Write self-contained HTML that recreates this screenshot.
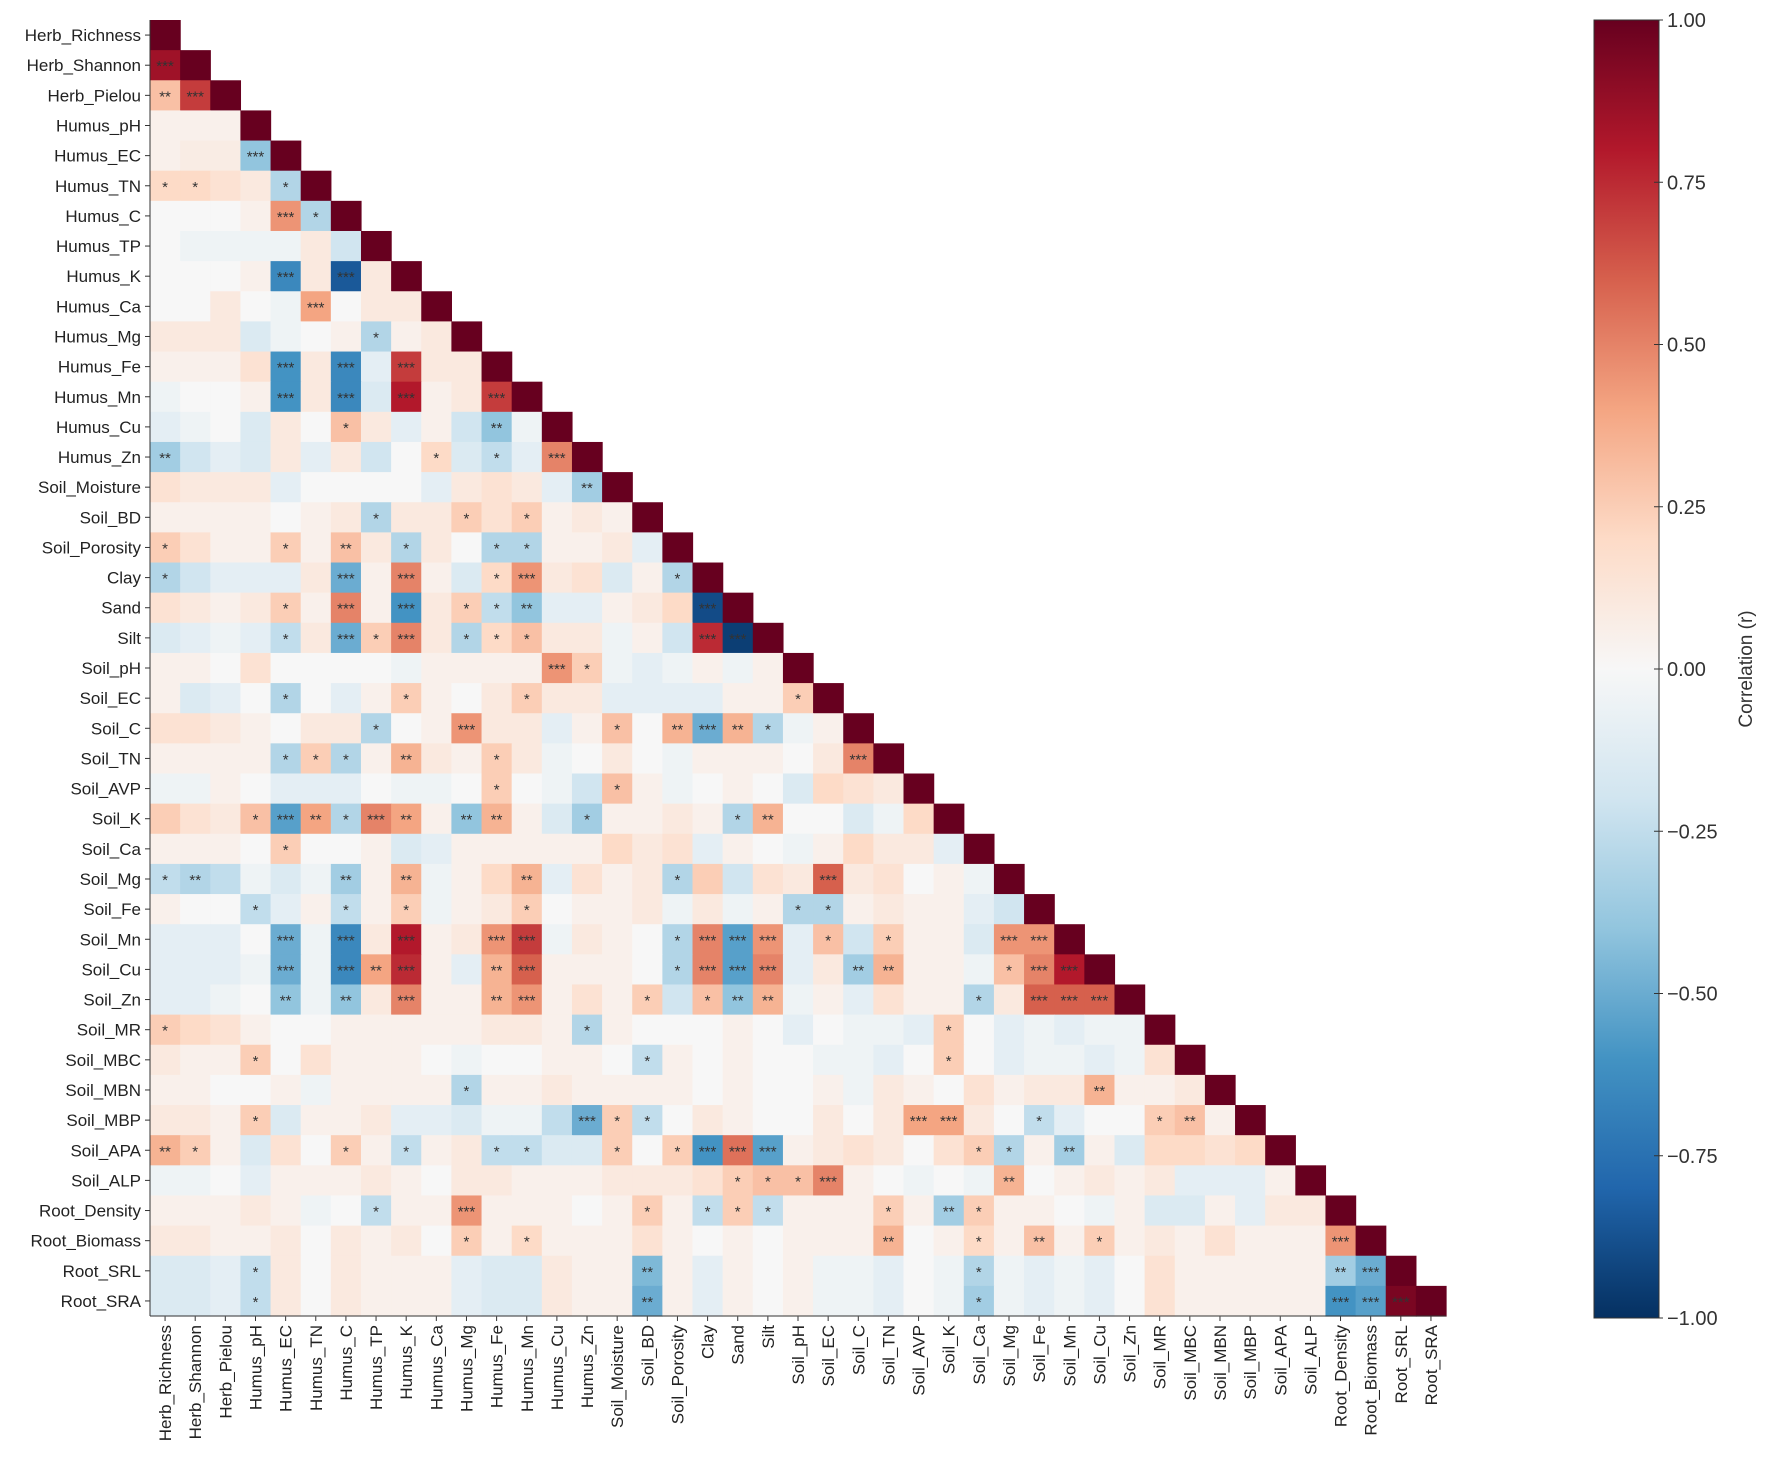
<!DOCTYPE html>
<html><head><meta charset="utf-8"><style>
body{margin:0;background:#fff;}
svg{display:block;font-family:"Liberation Sans",sans-serif;}
</style></head><body>
<svg id="s" width="1772" height="1473" xmlns="http://www.w3.org/2000/svg"></svg>
<script>
const labels=["Herb_Richness","Herb_Shannon","Herb_Pielou","Humus_pH","Humus_EC","Humus_TN","Humus_C","Humus_TP","Humus_K","Humus_Ca","Humus_Mg","Humus_Fe","Humus_Mn","Humus_Cu","Humus_Zn","Soil_Moisture","Soil_BD","Soil_Porosity","Clay","Sand","Silt","Soil_pH","Soil_EC","Soil_C","Soil_TN","Soil_AVP","Soil_K","Soil_Ca","Soil_Mg","Soil_Fe","Soil_Mn","Soil_Cu","Soil_Zn","Soil_MR","Soil_MBC","Soil_MBN","Soil_MBP","Soil_APA","Soil_ALP","Root_Density","Root_Biomass","Root_SRL","Root_SRA"];
const rows=[
"",
"0.85***",
"0.3** 0.7***",
"0.05 0.05 0.05",
"0.05 0.08 0.08 -0.4***",
"0.2* 0.2* 0.15 0.1 -0.3*",
"0 0 0 0.05 0.45*** -0.3*",
"0 -0.05 -0.05 -0.05 -0.05 0.1 -0.2",
"0 0 0 0.05 -0.65*** 0.1 -0.85*** 0.1",
"0 0 0.1 0 -0.05 0.4*** 0 0.1 0.1",
"0.1 0.1 0.1 -0.15 -0.05 0 0.05 -0.3* 0.05 0.1",
"0.05 0.05 0.05 0.15 -0.6*** 0.1 -0.65*** -0.1 0.7*** 0.1 0.1",
"-0.05 0 0 0.05 -0.6*** 0.1 -0.65*** -0.15 0.8*** 0.05 0.1 0.7***",
"-0.1 -0.05 0 -0.15 0.1 0 0.3* 0.1 -0.1 0.05 -0.2 -0.4** -0.05",
"-0.35** -0.2 -0.1 -0.15 0.1 -0.1 0.1 -0.2 0 0.2* -0.15 -0.25* -0.1 0.5***",
"0.15 0.1 0.1 0.1 -0.1 0 0 0 0 -0.1 0.1 0.15 0.1 -0.1 -0.35**",
"0.05 0.05 0.05 0.05 0 0.05 0.1 -0.3* 0.1 0.1 0.25* 0.15 0.25* 0.05 0.1 0.05",
"0.25* 0.15 0.05 0.05 0.25* 0.05 0.3** 0.1 -0.3* 0.1 0 -0.3* -0.3* 0.05 0.05 0.1 -0.1",
"-0.3* -0.2 -0.1 -0.1 -0.1 0.1 -0.5*** 0.05 0.5*** 0.05 -0.15 0.2* 0.45*** 0.1 0.15 -0.15 0.05 -0.3*",
"0.15 0.1 0.05 0.1 0.25* 0.05 0.5*** 0.05 -0.6*** 0.1 0.25* -0.25* -0.4** -0.1 -0.1 0.05 0.1 0.2 -0.9***",
"-0.15 -0.1 -0.05 -0.1 -0.25* 0.1 -0.5*** 0.25* 0.5*** 0.1 -0.3* 0.2* 0.3* 0.1 0.1 -0.05 0.05 -0.2 0.75*** -0.95***",
"0.05 0.05 0 0.15 0 0 0 0 -0.05 0.05 0.05 0.05 0.05 0.45*** 0.25* -0.05 -0.1 -0.05 0.05 -0.05 0.05",
"0.05 -0.15 -0.1 0 -0.3* 0 -0.1 0.05 0.25* 0.05 0 0.1 0.25* 0.1 0.1 -0.1 -0.1 -0.1 -0.1 0.05 0.05 0.25*",
"0.15 0.15 0.1 0.05 0 0.1 0.1 -0.3* 0 0.05 0.45*** 0.1 0.1 -0.1 0.05 0.3* 0 0.35** -0.5*** 0.35** -0.3* -0.05 0.05",
"0.05 0.05 0.05 0.05 -0.3* 0.25* -0.3* 0.05 0.35** 0.1 0.05 0.25* 0.1 -0.05 0 0.1 0 -0.05 0.05 0.05 0.05 0 0.1 0.5***",
"-0.05 -0.05 0.05 0 -0.1 -0.1 -0.1 0 -0.05 -0.05 0 0.25* 0 -0.05 -0.2 0.3* 0.05 -0.05 0 0.05 0 -0.15 0.2 0.15 0.1",
"0.25 0.15 0.1 0.3* -0.55*** 0.4** -0.3* 0.5*** 0.4** 0.05 -0.4** 0.35** 0.05 -0.15 -0.35* 0.05 0.05 0.1 0.05 -0.3* 0.35** 0 0 -0.15 -0.05 0.2",
"0.05 0.05 0.05 0 0.25* 0 0 0.05 -0.15 -0.1 0.05 0.05 0.05 0.05 0.05 0.2 0.1 0.15 -0.1 0.05 0 -0.05 0.05 0.2 0.1 0.1 -0.1",
"-0.25* -0.3** -0.25 -0.05 -0.15 -0.05 -0.35** 0.05 0.35** -0.05 0.05 0.2 0.35** -0.1 0.15 0.05 0.1 -0.3* 0.25 -0.2 0.15 0.1 0.6*** 0.1 0.15 0 0.05 -0.05",
"0.05 0 0 -0.25* -0.1 0.05 -0.25* 0.05 0.25* -0.05 0.05 0.1 0.25* 0 0.05 0.05 0.1 -0.05 0.1 -0.05 0.05 -0.3* -0.3* 0.05 0.1 0.05 0.05 -0.1 -0.2",
"-0.1 -0.1 -0.1 0 -0.5*** -0.05 -0.65*** 0.1 0.8*** 0.05 0.1 0.45*** 0.7*** -0.05 0.1 0.05 0 -0.3* 0.5*** -0.55*** 0.45*** -0.1 0.3* -0.2 0.25* 0.05 0.05 -0.15 0.45*** 0.45***",
"-0.1 -0.1 -0.1 -0.05 -0.5*** -0.05 -0.65*** 0.4** 0.75*** 0.05 -0.1 0.35** 0.6*** 0.05 0.05 0.05 0 -0.3* 0.5*** -0.55*** 0.5*** -0.1 0.1 -0.35** 0.35** 0.05 0.05 -0.05 0.3* 0.5*** 0.8***",
"-0.1 -0.1 -0.05 0 -0.4** -0.05 -0.4** 0.1 0.5*** 0.05 0.05 0.35** 0.45*** 0.05 0.15 0.05 0.25* -0.2 0.3* -0.4** 0.35** -0.05 0.05 -0.1 0.15 0.05 0.05 -0.3* 0.1 0.6*** 0.6*** 0.6***",
"0.25* 0.2 0.15 0.05 0 0 0.05 0.05 0.05 0.05 0.05 0.1 0.1 0.05 -0.3* 0.05 0 0 0 0.05 0 -0.1 0 -0.05 -0.05 -0.1 0.25* 0 -0.1 -0.05 -0.1 -0.05 -0.05",
"0.1 0.05 0.05 0.25* 0 0.15 0.05 0.05 0.05 0 -0.05 0 0 0.05 0.05 0 -0.25* 0.05 0 0.05 0 0 -0.05 -0.05 -0.1 0 0.25* 0 -0.1 -0.05 -0.05 -0.1 -0.05 0.15",
"0.05 0.05 0 0 0.05 -0.05 0.05 0.05 0.05 0.05 -0.3* 0.05 0.05 0.1 0.05 0.05 0.05 0.05 0 0.05 0 0 0.05 -0.05 0.1 0.05 0 0.15 0.05 0.1 0.1 0.35** 0.05 0.05 0.1",
"0.1 0.1 0.05 0.25* -0.15 0.05 0.05 0.1 -0.1 -0.1 -0.15 -0.05 -0.05 -0.25 -0.5*** 0.25* -0.25* 0 0.1 0.05 0 0 0.1 0 0.1 0.4*** 0.4*** 0.1 0 -0.25* -0.1 0 0 0.25* 0.3** 0.05",
"0.35** 0.25* 0.05 -0.15 0.15 0 0.25* 0.05 -0.25* 0.05 0.1 -0.25* -0.25* -0.15 -0.15 0.25* 0 0.25* -0.6*** 0.55*** -0.55*** 0.05 0.1 0.15 0.1 0 0.15 0.25* -0.3* 0.05 -0.35** 0.05 -0.15 0.2 0.2 0.15 0.2",
"-0.05 -0.05 0 -0.1 0.05 0.05 0.05 0.1 0.05 0 0.1 0.1 0.05 0.05 0.05 0.1 0.1 0.1 0.15 0.25* 0.3* 0.3* 0.5*** 0.05 0 -0.05 0 -0.05 0.35** 0 0.05 0.1 0.05 0.1 -0.1 -0.1 -0.1 0.05",
"0.05 0.05 0.05 0.1 0.05 -0.05 0 -0.25* 0.05 0.05 0.45*** 0.05 0.05 0.05 0 0.05 0.25* 0.05 -0.25* 0.25* -0.25* 0.05 0.05 0.05 0.25* 0.05 -0.35** 0.25* 0.05 0.05 0 -0.05 0.05 -0.15 -0.15 0.05 -0.1 0.1 0.1",
"0.1 0.1 0.05 0.05 0.1 0 0.1 0.05 0.1 0 0.25* 0.05 0.2* 0.05 0.05 0.05 0.15 0.05 0 0.05 0 0.05 0.05 0.05 0.35** 0 0.05 0.2* 0.05 0.3** 0.05 0.25* 0.05 0.1 0.05 0.15 0.05 0.05 0.05 0.45***",
"-0.15 -0.15 -0.1 -0.25* 0.1 0 0.1 0.05 0.05 0.05 -0.1 -0.15 -0.15 0.1 0.05 0.05 -0.45** 0.05 -0.1 0.05 0 0.05 -0.05 -0.05 -0.1 0 -0.05 -0.3* -0.05 -0.1 -0.05 -0.1 0 0.15 0.05 0.05 0.05 0.05 0.05 -0.35** -0.5***",
"-0.15 -0.15 -0.1 -0.25* 0.1 0 0.1 0.05 0.05 0.05 -0.1 -0.15 -0.15 0.1 0.05 0.05 -0.5** 0.05 -0.1 0.05 0 0.05 -0.05 -0.05 -0.1 0 -0.05 -0.35* -0.05 -0.1 -0.05 -0.1 0 0.15 0.05 0.05 0.05 0.05 0.05 -0.6*** -0.55*** 0.95***"
];
const stops=["#053061","#2166ac","#4393c3","#92c5de","#d1e5f0","#f7f7f7","#fddbc7","#f4a582","#d6604d","#b2182b","#67001f"];
function hx(h){return [1,3,5].map(i=>parseInt(h.substr(i,2),16));}
function cmap(v){let t=(v+1)/2*10;if(t<0)t=0;if(t>10)t=10;let i=Math.min(9,Math.floor(t)),f=t-i;
 const a=hx(stops[i]),b=hx(stops[i+1]);return "rgb("+a.map((x,k)=>Math.round(x+(b[k]-x)*f)).join(",")+")";}
const X0=150,Y0=20,C=30.14,N=43;
let h='';
h+='<defs><linearGradient id="g" x1="0" y1="1" x2="0" y2="0">';
stops.forEach((s,i)=>{h+=`<stop offset="${i/10}" stop-color="${s}"/>`;});
h+='</linearGradient></defs>';
for(let i=0;i<N;i++){
 const toks=rows[i]?rows[i].split(" "):[];
 for(let j=0;j<=i;j++){
  let v=1,st='';
  if(j<i){const t=toks[j]||"0";v=parseFloat(t);st=(t.match(/\*/g)||[]).join('');}
  const x=X0+j*C,y=Y0+i*C;
  h+=`<rect x="${x.toFixed(2)}" y="${y.toFixed(2)}" width="${(C+0.6).toFixed(2)}" height="${(C+0.6).toFixed(2)}" fill="${cmap(v)}"/>`;
  if(st) h+=`<text x="${(x+C/2).toFixed(2)}" y="${(y+C/2+6).toFixed(2)}" font-size="15" fill="#333" text-anchor="middle">${st}</text>`;
 }
 const cy=Y0+(i+0.5)*C;
 h+=`<line x1="${X0-5}" y1="${cy}" x2="${X0}" y2="${cy}" stroke="#333"/>`;
 h+=`<text x="${X0-9}" y="${cy+6}" font-size="17" fill="#222" text-anchor="end">${labels[i]}</text>`;
 const cx=X0+(i+0.5)*C, by=Y0+N*C;
 h+=`<line x1="${cx}" y1="${by}" x2="${cx}" y2="${by+5}" stroke="#333"/>`;
 h+=`<text transform="translate(${cx+6},${by+9}) rotate(-90)" font-size="17" fill="#222" text-anchor="end">${labels[i]}</text>`;
}
h+=`<line x1="${X0}" y1="${Y0}" x2="${X0}" y2="${Y0+N*C}" stroke="#333"/><line x1="${X0}" y1="${Y0+N*C}" x2="${X0+N*C}" y2="${Y0+N*C}" stroke="#333"/>`;
const cbx=1594,cbw=65,cbt=20,cbb=1318;
h+=`<rect x="${cbx}" y="${cbt}" width="${cbw}" height="${cbb-cbt}" fill="url(#g)" stroke="#333" stroke-width="1"/>`;
["1.00","0.75","0.50","0.25","0.00","\u22120.25","\u22120.50","\u22120.75","\u22121.00"].forEach((l,k)=>{
 const y=cbt+k*(cbb-cbt)/8;
 h+=`<line x1="${cbx+cbw-5}" y1="${y}" x2="${cbx+cbw+4}" y2="${y}" stroke="#333"/>`;
 h+=`<text x="${cbx+cbw+8}" y="${y+7}" font-size="20" fill="#333">${l}</text>`;
});
h+=`<text transform="translate(1752,${(cbt+cbb)/2}) rotate(-90)" font-size="19" fill="#333" text-anchor="middle">Correlation (r)</text>`;
document.getElementById('s').innerHTML=h;
</script>
</body></html>
